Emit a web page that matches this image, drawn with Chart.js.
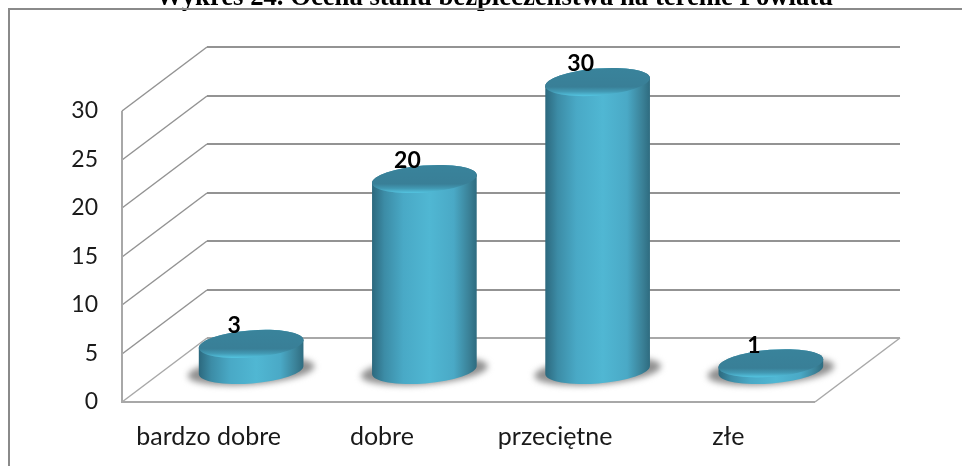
<!DOCTYPE html>
<html>
<head>
<meta charset="utf-8">
<script src="https://cdn.jsdelivr.net/npm/chart.js@4"></script>
<style>
  html, body { margin: 0; padding: 0; background: #fff; overflow: hidden; }
  #wrap { width: 962px; height: 466px; }
</style>
</head>
<body>
<div id="wrap"><canvas id="chart" width="962" height="466"></canvas></div>
<script>
var titleText = 'Wykres 24. Ocena stanu bezpieczeństwa na terenie Powiatu';
var categories = ['bardzo dobre', 'dobre', 'przeciętne', 'złe'];
var ratings = [3, 20, 30, 1];
var tickStep = 5;
var axisMax = 30;

// depth of the fake 3D box, front plane is the chart area
var depthX = 85;
var depthY = 64;
var gridColor = '#939393';

function tiltedEllipse(ctx, cx, cy, rx, ry) {
  ctx.ellipse(cx, cy, rx, ry, -0.08, 0, Math.PI * 2);
}

var box3d = {
  id: 'box3d',
  beforeDatasetsDraw: function(chart) {
    var ctx = chart.ctx;
    var a = chart.chartArea;
    var y = chart.scales.y;
    ctx.save();

    // frame round the picture, only top and left are in view
    ctx.strokeStyle = '#8a8a8a';
    ctx.lineWidth = 2;
    ctx.beginPath();
    ctx.moveTo(9, 466);
    ctx.lineTo(9, 9);
    ctx.lineTo(962, 9);
    ctx.stroke();

    // gridlines on back wall and side wall
    for (var v = 0; v <= axisMax; v += tickStep) {
      var py = Math.round(y.getPixelForValue(v));
      ctx.strokeStyle = v === 0 ? '#a8a8a8' : gridColor;
      ctx.lineWidth = 1.5;
      ctx.beginPath();
      ctx.moveTo(a.left, py);
      ctx.lineTo(a.left + depthX, py - depthY);
      ctx.stroke();
      ctx.lineWidth = 2;
      ctx.beginPath();
      ctx.moveTo(a.left + depthX, py - depthY);
      ctx.lineTo(a.right + depthX, py - depthY);
      ctx.stroke();
    }

    // floor and front edge of side wall
    ctx.lineWidth = 2;
    ctx.strokeStyle = '#a8a8a8';
    ctx.beginPath();
    ctx.moveTo(a.left, a.top);
    ctx.lineTo(a.left, a.bottom);
    ctx.lineTo(a.right, a.bottom);
    ctx.stroke();
    ctx.lineWidth = 1.5;
    ctx.beginPath();
    ctx.moveTo(a.right, a.bottom);
    ctx.lineTo(a.right + depthX, a.bottom - depthY);
    ctx.stroke();
    ctx.restore();
  },
  afterDatasetsDraw: function(chart) {
    var ctx = chart.ctx;
    var meta = chart.getDatasetMeta(0);
    meta.data.forEach(function(bar, i) {
      var rx = bar.width / 2;
      var ry = 13.5;
      var cx = bar.x + depthX / 2;
      var topY = bar.y - 29;
      var baseY = bar.base - 32;
      var tilt = 0.08;
      var dx = rx * Math.cos(tilt);
      var dy = rx * Math.sin(tilt);

      // soft shadow on the floor
      ctx.save();
      ctx.filter = 'blur(3px)';
      ctx.fillStyle = '#909090';
      ctx.beginPath();
      tiltedEllipse(ctx, cx, baseY + 1, rx + 11, ry);
      ctx.fill();
      ctx.restore();

      // side of the cylinder
      var side = ctx.createLinearGradient(cx - rx, 0, cx + rx, 0);
      side.addColorStop(0, '#2c687d');
      side.addColorStop(0.12, '#3c8ca6');
      side.addColorStop(0.3, '#49a9c6');
      side.addColorStop(0.55, '#50b7d3');
      side.addColorStop(0.78, '#4aa9c6');
      side.addColorStop(0.93, '#3a8096');
      side.addColorStop(1, '#2e6b7f');
      ctx.fillStyle = side;
      ctx.beginPath();
      ctx.moveTo(cx - dx, topY + dy);
      ctx.lineTo(cx - dx, baseY + dy);
      ctx.ellipse(cx, baseY, rx, ry, -tilt, Math.PI, 0, true);
      ctx.lineTo(cx + dx, topY - dy);
      ctx.closePath();
      ctx.fill();
      ctx.beginPath();
      tiltedEllipse(ctx, cx, topY, rx, ry);
      ctx.fill();

      // lid with a lighter rim
      ctx.save();
      ctx.beginPath();
      tiltedEllipse(ctx, cx, topY, rx, ry);
      ctx.clip();
      var lid = ctx.createLinearGradient(0, topY - ry, 0, topY + ry);
      lid.addColorStop(0, '#39839b');
      lid.addColorStop(0.68, '#397f97');
      lid.addColorStop(0.85, '#4299b3');
      lid.addColorStop(1, '#52c0dc');
      ctx.fillStyle = lid;
      ctx.fillRect(cx - rx - 2, topY - ry - 6, rx * 2 + 4, ry * 2 + 12);
      ctx.restore();

      // value label
      ctx.save();
      ctx.fillStyle = '#000';
      ctx.font = 'bold 23px Lato';
      ctx.textAlign = 'center';
      ctx.textBaseline = 'middle';
      ctx.fillText(String(ratings[i]), cx - 17, topY - 18);
      ctx.restore();
    });
  }
};

new Chart(document.getElementById('chart'), {
  type: 'bar',
  data: {
    labels: categories,
    datasets: [{
      data: ratings,
      backgroundColor: 'rgba(0,0,0,0)',
      borderWidth: 0,
      barPercentage: 0.606,
      categoryPercentage: 1
    }]
  },
  plugins: [box3d],
  options: {
    responsive: false,
    animation: false,
    layout: { padding: { left: 27, right: 0, top: 0, bottom: 0 } },
    plugins: {
      legend: { display: false },
      tooltip: { enabled: false },
      title: {
        display: true,
        text: titleText,
        color: '#000',
        font: { family: 'Liberation Serif', size: 26.7, weight: 'bold' },
        padding: { top: -18, bottom: 97 }
      }
    },
    scales: {
      x: {
        grid: { display: false },
        border: { display: false },
        ticks: { color: '#1a1a1a', font: { family: 'Lato', size: 25 }, padding: 12, maxRotation: 0 },
        afterFit: function(s) { s.height = 64; }
      },
      y: {
        min: 0,
        max: axisMax,
        grid: { display: false },
        border: { display: false },
        ticks: { stepSize: tickStep, color: '#1a1a1a', font: { family: 'Lato', size: 23 }, padding: 16 },
        afterFit: function(s) { s.width = 95; }
      },
      // empty axis, only keeps room for the depth of the box on the right
      spacer: {
        position: 'right',
        min: 0,
        max: axisMax,
        grid: { display: false },
        border: { display: false },
        ticks: { display: false },
        afterFit: function(s) { s.width = 147; }
      }
    }
  }
});
</script>
</body>
</html>
